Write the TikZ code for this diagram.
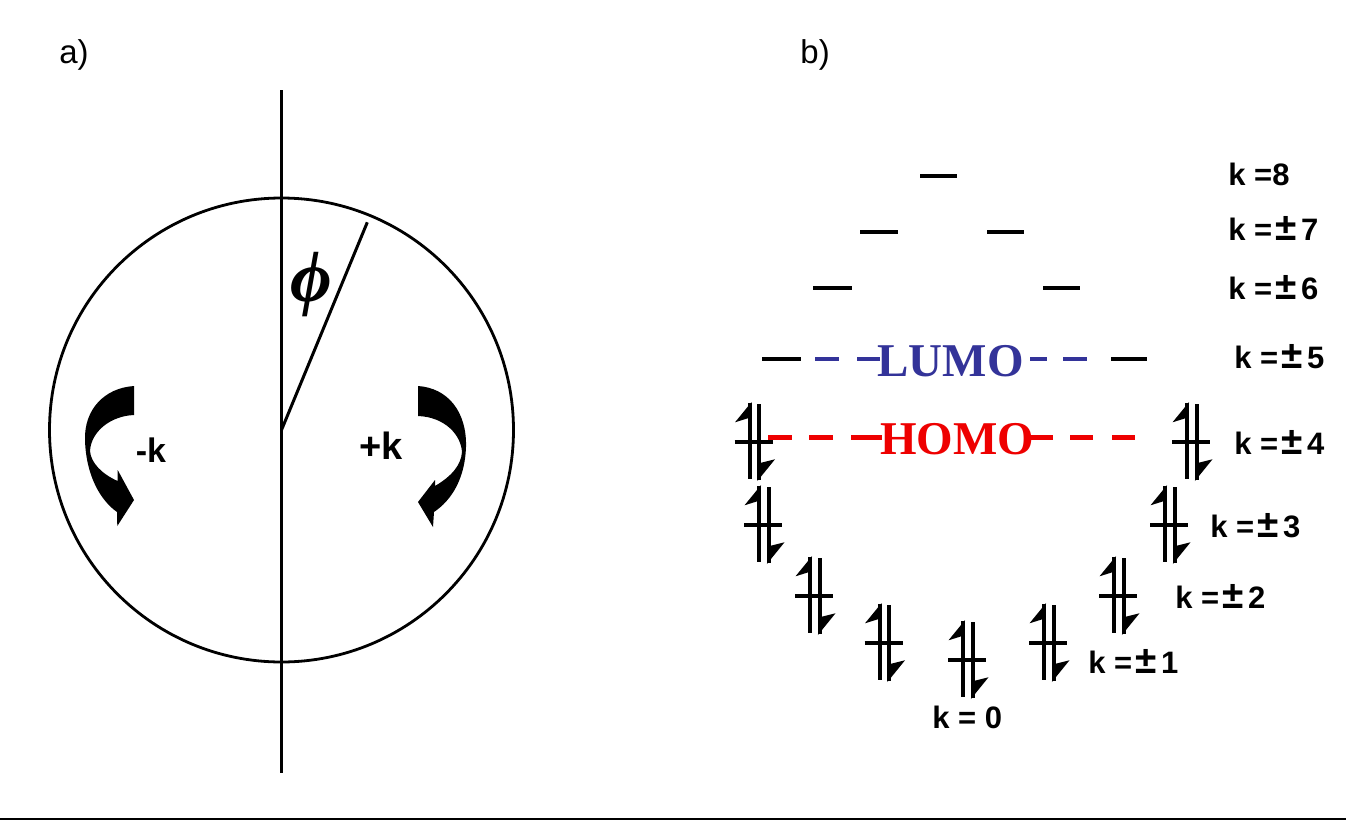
\documentclass[tikz,border=0pt]{standalone}
\usepackage{graphicx}
\usepackage{fontspec}
\setsansfont{Liberation Sans}
\newfontfamily\tms{Liberation Serif}
\definecolor{lumoblue}{RGB}{51,51,153}
\definecolor{homored}{RGB}{238,0,0}
\newcommand\pmc{\kern1.5pt\scalebox{1.25}{±}\kern2.2pt}
\tikzset{
  thinline/.style={line width=1.4pt},
  lvl/.style={line width=1.75pt},
  lumodash/.style={line width=2.3pt, lumoblue},
  homodash/.style={line width=2.3pt, homored},
  klab/.style={font=\sffamily\bfseries\fontsize{15.5}{16}\selectfont, anchor=west, inner sep=0pt},
  ablab/.style={font=\sffamily\fontsize{16.5}{17}\selectfont, anchor=base west, inner sep=0pt},
  orb/.style={font=\tms\bfseries\fontsize{23.5}{24}\selectfont, anchor=base west, inner sep=0pt},
  philab/.style={font=\tms\bfseries\itshape\fontsize{36}{36}\selectfont, inner sep=0pt},
  pair/.pic={
    \draw[line width=1.9pt] (-4.8,-39) -- (-4.8,37);
    \draw[line width=1.9pt] (4.8,-38) -- (4.8,38);
    \fill (-2.9,-40) -- (-19.5,-19.7) -- (-6.7,-23.7) -- cycle;
    \fill (2.9,39) -- (20.5,17.3) -- (6.7,20.7) -- cycle;
    \draw[line width=2.1pt] (-20,0) -- (18,0);
  }
}
\begin{document}
\begin{tikzpicture}[x=0.5pt,y=-0.5pt]
\useasboundingbox (0,0) rectangle (1346,820);
\fill[white] (0,0) rectangle (1346,820);

% labels a) b)
\node[ablab] (la) at (59,63.5) {a)};
\node[ablab] (lb) at (800,63.5) {b)};

% ---------- part a ----------
\coordinate (ctr) at (281.5,430);
\coordinate (vtop) at (281.5,90);
\coordinate (vbot) at (281.5,773);
\coordinate (rad) at (367.3,222.3);
\draw[thinline] (ctr) circle[radius=232];
\draw[line width=1.5pt] (vtop) -- (vbot);
\draw[line width=1.5pt] (ctr) -- (rad);
\node[philab] (phisym) at (311.5,284.5) {ϕ};

% curved arrows
\fill (134,386) .. controls (104,388) and (84,410) .. (85,440)
      .. controls (86,475) and (100,500) .. (117,512)
      -- (117.3,526) -- (134,500) -- (117.7,470) -- (117.6,481)
      .. controls (102,474) and (91,463) .. (90,451)
      .. controls (91,432) and (110,416) .. (134,415) -- cycle;
\fill (418,386) .. controls (448,388) and (467,412) .. (466,447)
      .. controls (465,478) and (452,500) .. (434,512)
      -- (433,527) -- (418,502) -- (435,480) -- (435,486)
      .. controls (452,476) and (461,465) .. (462,452)
      .. controls (461,435) and (445,417) .. (418,416) -- cycle;
\node[inner sep=0pt, font=\sffamily\bfseries\fontsize{17}{17}\selectfont] (mk) at (151,450) {-k};
\node[inner sep=0pt, font=\sffamily\bfseries\fontsize{19}{19}\selectfont] (pk) at (381,446) {+k};

% ---------- part b ----------
% empty levels
\draw[lvl] (920,176) -- (957,176);
\draw[lvl] (860,232) -- (898,232);
\draw[lvl] (987,232) -- (1024,232);
\draw[lvl] (813,288) -- (852,288);
\draw[lvl] (1043,288) -- (1080,288);
\draw[lvl] (762,359) -- (801,359);
\draw[lvl] (1111,359) -- (1147,359);

% LUMO
\draw[lumodash] (815,359) -- (839,359);
\draw[lumodash] (857,359) -- (880,359);
\draw[lumodash] (1030,359) -- (1047,359);
\draw[lumodash] (1063,359) -- (1087,359);
\node[orb, text=lumoblue] (lumo) at (877,376) {LUMO};

% HOMO
\draw[homodash] (768,437.5) -- (792,437.5);
\draw[homodash] (809,437.5) -- (833,437.5);
\draw[homodash] (851,437.5) -- (882,437.5);
\draw[homodash] (1028,437.5) -- (1053,437.5);
\draw[homodash] (1070,437.5) -- (1093,437.5);
\draw[homodash] (1112,437.5) -- (1135,437.5);
\node[orb, text=homored] (homo) at (880,454) {HOMO};

% filled levels
\pic at (754.5,442) {pair};
\pic at (764,525) {pair};
\pic at (815,596) {pair};
\pic at (884.5,643) {pair};
\pic at (968,660) {pair};
\pic at (1049,643) {pair};
\pic at (1119,596) {pair};
\pic at (1170,525) {pair};
\pic at (1192,442) {pair};

% k labels
\node[klab] (k8) at (1228,174) {k =8};
\node[klab] (k7) at (1228,228) {k =\pmc 7};
\node[klab] (k6) at (1228,288) {k =\pmc 6};
\node[klab] (k5) at (1234,357) {k =\pmc 5};
\node[klab] (k4) at (1234,442) {k =\pmc 4};
\node[klab] (k3) at (1210,526) {k =\pmc 3};
\node[klab] (k2) at (1175,596) {k =\pmc 2};
\node[klab] (k1) at (1088,661) {k =\pmc 1};
\node[klab] (k0) at (932,717) {k = 0};

% bottom rule
\draw[line width=1.2pt] (0,819) -- (1346,819);
\end{tikzpicture}
\end{document}
